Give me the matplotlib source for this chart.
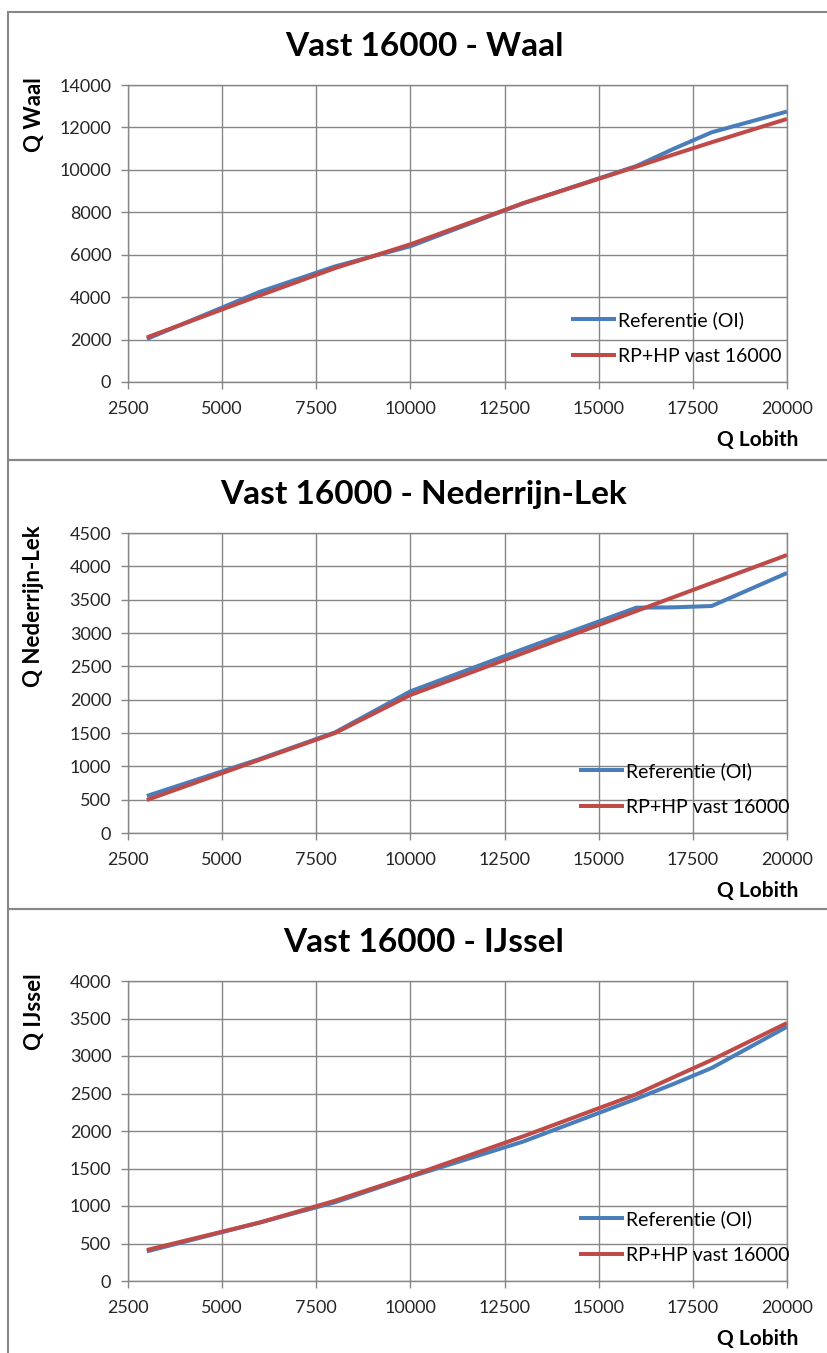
import numpy as np
import matplotlib.pyplot as plt
from matplotlib.patches import Rectangle

plt.rcParams['font.family'] = ['Lato', 'DejaVu Sans']

# Afvoer Lobith (m3/s) en verdeling over de Rijntakken
q_lobith = [3000, 6000, 8000, 10000, 13000, 16000, 17000, 18000, 20000]

waal_ref = [2030, 4250, 5450, 6400, 8430, 10180, 11000, 11770, 12750]
waal_vast = [2100, 4080, 5370, 6490, 8430, 10150, 10730, 11300, 12400]

nrl_ref = [555, 1110, 1510, 2125, 2760, 3380, 3385, 3405, 3900]
nrl_vast = [495, 1100, 1500, 2070, 2700, 3330, 3540, 3750, 4170]

ijssel_ref = [395, 780, 1050, 1390, 1860, 2430, 2630, 2840, 3390]
ijssel_vast = [413, 780, 1070, 1400, 1930, 2490, 2720, 2947, 3440]

labels = ["Referentie (OI)", "RP+HP vast 16000"]
blue = "#4A7EBB"
red = "#BE4B48"
grid_color = "#868686"

W, H = 827, 1353
fig = plt.figure(figsize=(W / 100, H / 100), dpi=100)


def fx(px):
    return px / W


def fy(py):
    return 1 - py / H


panels = [
    # titel, y-label, referentie, vast, ymax, stap, top paneel, bodem paneel, top as, bodem as, legenda x
    ("Vast 16000 - Waal", "Q Waal", waal_ref, waal_vast, 14000, 2000, 12, 460, 85, 382, 563),
    ("Vast 16000 - Nederrijn-Lek", "Q Nederrijn-Lek", nrl_ref, nrl_vast, 4500, 500, 460, 909, 533, 833, 571),
    ("Vast 16000 - IJssel", "Q IJssel", ijssel_ref, ijssel_vast, 4000, 500, 909, 1360, 981, 1281, 571),
]

for title, ylabel, ref, vast, ymax, step, ptop, pbot, atop, abot, legx in panels:
    # kader rond elk paneel
    fig.add_artist(Rectangle((fx(8), fy(pbot)), fx(840) - fx(8), fy(ptop) - fy(pbot),
                             transform=fig.transFigure, fill=False,
                             edgecolor="#878787", linewidth=1.5))

    ax = fig.add_axes([fx(128), fy(abot), fx(787) - fx(128), fy(atop) - fy(abot)])
    l1, = ax.plot(q_lobith, ref, color=blue, linewidth=2.9, solid_capstyle='butt')
    l2, = ax.plot(q_lobith, vast, color=red, linewidth=2.9, solid_capstyle='butt')

    ax.set_xlim(2500, 20000)
    ax.set_ylim(0, ymax)
    ax.set_xticks(np.arange(2500, 20001, 2500))
    ax.set_yticks(np.arange(0, ymax + 1, step))
    ax.grid(True, color=grid_color, linewidth=1.0)
    ax.set_axisbelow(True)
    for s in ax.spines.values():
        s.set_color(grid_color)
        s.set_linewidth(1.0)
    ax.tick_params(colors=grid_color, labelcolor="#262626", labelsize=13,
                   length=5, width=1.0, pad=7)
    ax.tick_params(axis='x', pad=9)

    fig.text(fx(424), fy((ptop + atop) / 2 - 2), title, ha='center', va='center',
             fontsize=24, fontweight='bold', color="black")
    fig.text(fx(34), fy(atop - 8), ylabel, rotation=90, ha='center', va='top',
             fontsize=16, fontweight='bold', color="black")
    fig.text(fx(798), fy(abot + 58), "Q Lobith", ha='right', va='center',
             fontsize=15, fontweight='bold', color="black")

    ax.legend([l1, l2], labels, loc='center left',
              bbox_to_anchor=(fx(legx), fy(abot - 44)), bbox_transform=fig.transFigure,
              frameon=False, fontsize=14, handlelength=2.3, handletextpad=0.15,
              labelspacing=0.95, borderaxespad=0)

fig.savefig("out.png", dpi=100)
